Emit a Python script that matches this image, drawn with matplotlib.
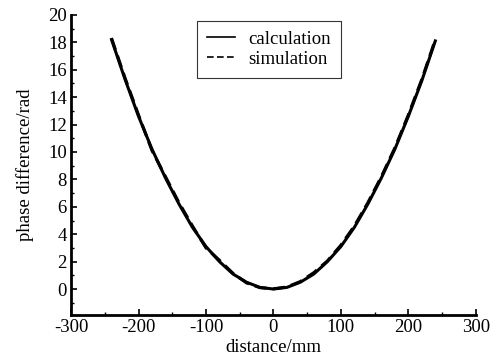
import matplotlib
matplotlib.use("Agg")
import matplotlib.pyplot as plt
from matplotlib.ticker import MultipleLocator

plt.rcParams['font.family'] = ['Liberation Serif', 'DejaVu Serif']
plt.rcParams['axes.unicode_minus'] = False

distance = [-240, -220, -200, -180, -160, -140, -120, -100, -80, -60, -40, -20,
            0, 20, 40, 60, 80, 100, 120, 140, 160, 180, 200, 220, 240]
calculation = [18.2, 15.3, 12.6, 10.2, 8.1, 6.2, 4.5, 3.1, 2.0, 1.1, 0.5, 0.12,
               0.0, 0.12, 0.5, 1.1, 2.0, 3.1, 4.5, 6.2, 8.1, 10.2, 12.6, 15.2, 18.1]
simulation = [18.3, 15.4, 12.7, 10.1, 8.2, 6.3, 4.6, 3.0, 2.1, 1.15, 0.45, 0.1,
              0.02, 0.15, 0.55, 1.2, 2.05, 3.2, 4.6, 6.3, 8.2, 10.3, 12.7, 15.3, 18.2]

fig = plt.figure(figsize=(5.04, 3.63), dpi=100)
ax = fig.add_axes([0.141, 0.132, 0.803, 0.827])

ax.plot(distance, calculation, color='black', lw=2.2, ls='-', label='calculation')
ax.plot(distance, simulation, color='black', lw=2.2, ls=(0, (4, 2)), label='simulation')

ax.set_xlim(-300, 300)
ax.set_ylim(-1.9, 20)
ax.xaxis.set_major_locator(MultipleLocator(100))
ax.xaxis.set_minor_locator(MultipleLocator(50))
ax.yaxis.set_minor_locator(MultipleLocator(1))
ax.set_yticks(range(0, 21, 2))

for s in ['top', 'right']:
    ax.spines[s].set_visible(False)
for s in ['left', 'bottom']:
    ax.spines[s].set_linewidth(2.0)

ax.tick_params(which='major', direction='in', length=4, width=1.2, labelsize=13.5, pad=3)
ax.tick_params(which='minor', direction='in', length=2.5, width=1.0)

ax.set_xlabel('distance/mm', fontsize=13.5, labelpad=2)
ax.set_ylabel('phase difference/rad', fontsize=13.5, labelpad=10)

leg = ax.legend(loc='upper center', bbox_to_anchor=(0.489, 1.0), fontsize=13.5,
                frameon=True, fancybox=False, edgecolor='black', handlelength=1.5,
                handletextpad=0.7, borderpad=0.55, labelspacing=0.15, borderaxespad=0.3)
leg.get_frame().set_linewidth(0.8)
for h in leg.get_lines():
    h.set_linewidth(1.2)

fig.savefig('out.png', dpi=100)
